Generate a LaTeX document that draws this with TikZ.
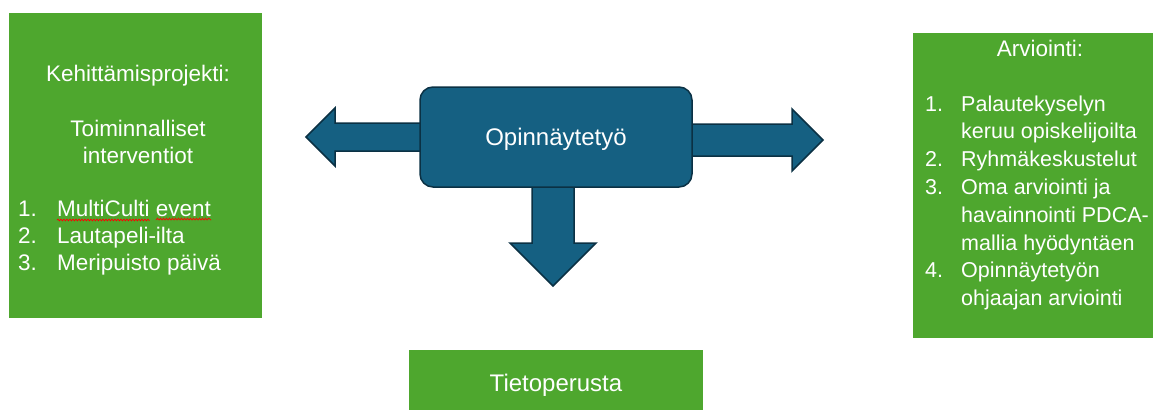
\documentclass[tikz,border=0pt]{standalone}
\usepackage{fontspec}
\setmainfont{Liberation Sans}
\usetikzlibrary{backgrounds,calc,decorations.pathmorphing}
\definecolor{boxgreen}{HTML}{4EA72E}
\definecolor{thesisblue}{HTML}{156082}
\definecolor{edgeblue}{HTML}{0B3144}

\begin{document}
\begin{tikzpicture}[x=1pt,y=-1pt,
  txt/.style={text=white,inner sep=0pt,font=\fontsize{22.5}{27}\selectfont},
  smalltxt/.style={text=white,inner sep=0pt,font=\fontsize{21.5}{27}\selectfont},
  bigtxt/.style={text=white,inner sep=0pt,font=\fontsize{24}{28}\selectfont},
  greenbox/.style={fill=boxgreen,inner sep=0pt,outer sep=0pt},
  thesisbox/.style={fill=thesisblue,draw=edgeblue,line width=1.5pt,rounded corners=13pt,
    minimum width=272pt,minimum height=100pt,outer sep=0pt},
  blockarrow/.style={fill=thesisblue,draw=edgeblue,line width=1.5pt,line join=miter}]
\useasboundingbox (0,0) rectangle (1153,410);
% green boxes
\node[greenbox,minimum width=253pt,minimum height=305pt] (project) at (135.5,165.5) {};
\node[greenbox,minimum width=240pt,minimum height=305pt] (evaluation) at (1033,185.5) {};
\node[greenbox,minimum width=294pt,minimum height=60pt] (basis) at (556,380) {};
% thesis box and its arrows
\node[thesisbox] (thesis) at (556,137) {};
\node[bigtxt,anchor=base] (thesistxt) at (556,145) {Opinnäytetyö};
\begin{scope}[on background layer]
\draw[blockarrow] ($(thesis.west)+(10,-14)$) -- ++(-95,0) -- ++(0,-15) -- ++(-29,29)
  -- ++(29,29) -- ++(0,-15) -- ++(95,0) -- cycle;
\draw[blockarrow] ($(thesis.east)+(-10,-13)$) -- ++(110,0) -- ++(0,-15) -- ++(31,31)
  -- ++(-31,31) -- ++(0,-15) -- ++(-110,0) -- cycle;
\draw[blockarrow] ($(thesis.south)+(-24,-10)$) -- ++(0,66) -- ++(-22,0) -- ++(43,43)
  -- ++(43,-43) -- ++(-22,0) -- ++(0,-66) -- cycle;
\end{scope}
% left box text
\node[txt,anchor=base] (projhead) at (138,81) {Kehittämisprojekti:};
\node[txt,anchor=base] (projsub1) at (138,136) {Toiminnalliset};
\node[txt,anchor=base] (projsub2) at (138,163) {interventiot};
\foreach \t [count=\i] in {MultiCulti event,Lautapeli-ilta,Meripuisto päivä}{
  \node[txt,anchor=base west] (projnum\i) at (18,{189+27*\i}) {\i.};
  \node[txt,anchor=base west] (projitem\i) at (57,{189+27*\i}) {\t};
}
\draw[red,line width=0.7pt,decoration={snake,segment length=3pt,amplitude=0.9pt},decorate]
  (57,220) -- (148,220) (156,220) -- (211,220);
% right box text
\node[txt,anchor=base] (evalhead) at (1040,56) {Arviointi:};
\foreach \t [count=\i] in {Palautekyselyn,keruu opiskelijoilta,Ryhmäkeskustelut,
  Oma arviointi ja,havainnointi PDCA-,mallia hyödyntäen,Opinnäytetyön,ohjaajan arviointi}
  \node[smalltxt,anchor=base west] (evalline\i) at (961,{83.3+27.8*\i}) {\t};
\foreach \n/\i in {1/1,2/3,3/4,4/7}
  \node[smalltxt,anchor=base west] (evalnum\n) at (925,{83.3+27.8*\i}) {\n.};
% bottom box text
\node[bigtxt,anchor=base] (basistxt) at (556,391) {Tietoperusta};
\end{tikzpicture}
\end{document}
